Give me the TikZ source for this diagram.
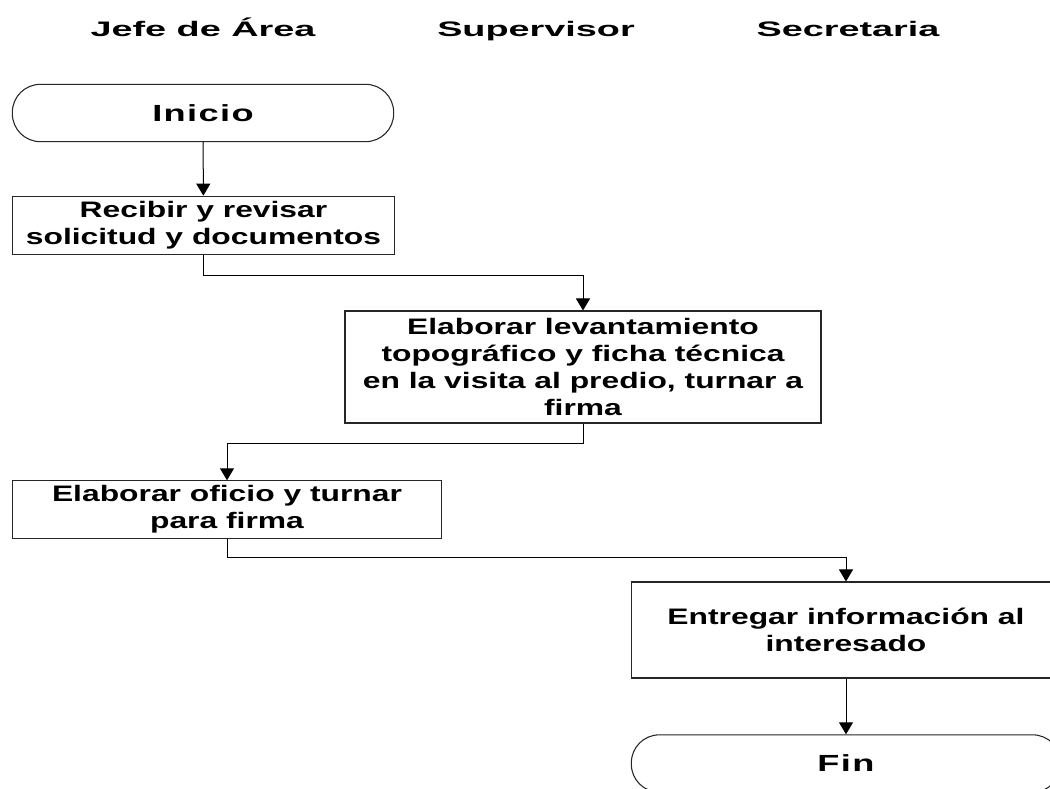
\documentclass[tikz,border=0pt]{standalone}
\usepackage{fontspec}
\setmainfont{Liberation Sans}
\newfontfamily\boxfont{Liberation Sans}[FakeStretch=1.42]
\newfontfamily\termfont{Liberation Sans}[FakeStretch=1.55, LetterSpace=6]
\newfontfamily\lanefont{Liberation Sans}[FakeStretch=1.8]
\usepackage{tikz}
\usetikzlibrary{arrows.meta, positioning, calc}

\begin{document}
\begin{tikzpicture}[
  x=0.75pt, y=-0.75pt,
  lane/.style={font=\lanefont\bfseries\fontsize{15.75}{18}\selectfont,
    inner sep=0pt, anchor=base},
  startstop/.style={rectangle, rounded corners=21pt,
    draw=black!85, line width=0.8pt, fill=white,
    minimum width=286pt, minimum height=43pt, inner sep=0pt,
    align=center, font=\termfont\bfseries\fontsize{17.5}{20}\selectfont},
  process/.style={rectangle, draw=black!85, line width=0.8pt, fill=white,
    inner sep=0pt, align=center,
    font=\boxfont\bfseries\fontsize{16.8}{20.25}\selectfont},
  arr/.style={-{Triangle[length=9pt, width=10.5pt]}, line width=0.75pt,
    color=black}
]
  \clip (0,0) rectangle (1050,789);

  \node[lane] (jefe)  at (203,36) {Jefe de Área};
  \node[lane] (super) at (536,36) {Supervisor};
  \node[lane] (secre) at (848,36) {Secretaria};

  \node[startstop] (start) at (203,113) {Inicio};
  \node[process, minimum width=286pt, minimum height=44pt]
    (recibir) at (203.5,225.5)
    {Recibir y revisar\\solicitud y documentos};
  \node[process, minimum width=357pt, minimum height=84pt]
    (levantamiento) at (583,367)
    {Elaborar levantamiento\\topográfico y ficha técnica\\
     en la visita al predio, turnar a\\firma};
  \node[process, minimum width=322pt, minimum height=43pt]
    (oficio) at (227,509.5)
    {Elaborar oficio y turnar\\para firma};
  \node[process, minimum width=322pt, minimum height=72pt]
    (entregar) at (846,630)
    {Entregar información al\\interesado};
  \node[startstop, minimum width=322pt] (fin) at (846,763.5) {Fin};

  \draw[arr] (start) -- (recibir);
  \draw[arr] (recibir.south) -- ++(0,20) -| (levantamiento.north);
  \draw[arr] (levantamiento.south) -- ++(0,20) -| (oficio.north);
  \draw[arr] (oficio.south) -- ++(0,19) -| (entregar.north);
  \draw[arr] (entregar) -- (fin);
\end{tikzpicture}
\end{document}
